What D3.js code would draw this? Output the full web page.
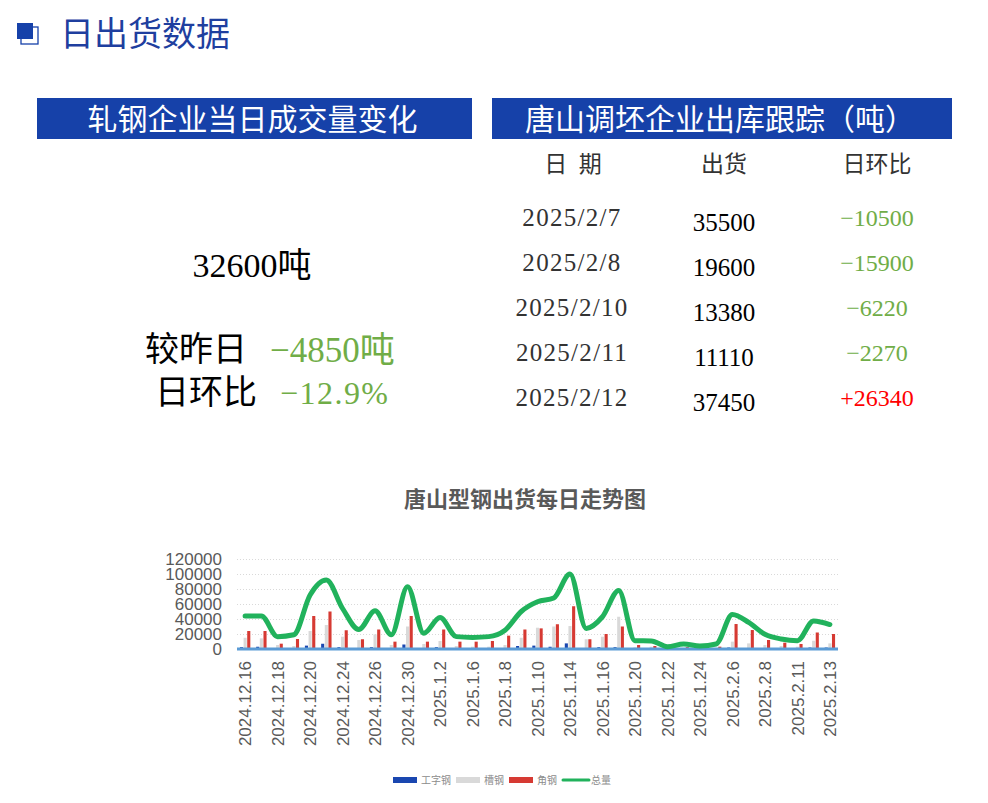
<!DOCTYPE html>
<html>
<head>
<meta charset="utf-8">
<script src="https://cdn.jsdelivr.net/npm/d3@7"></script>
<style>
  body { margin: 0; background: #fff; }
</style>
</head>
<body>
<svg id="page" width="988" height="803"></svg>
<script>
// chart data
var dates = ['2024.12.16','2024.12.17','2024.12.18','2024.12.19','2024.12.20','2024.12.23',
  '2024.12.24','2024.12.25','2024.12.26','2024.12.27','2024.12.30','2024.12.31',
  '2025.1.2','2025.1.3','2025.1.6','2025.1.7','2025.1.8','2025.1.9','2025.1.10',
  '2025.1.13','2025.1.14','2025.1.15','2025.1.16','2025.1.17','2025.1.20','2025.1.21',
  '2025.1.22','2025.1.23','2025.1.24','2025.2.5','2025.2.6','2025.2.7','2025.2.8',
  '2025.2.10','2025.2.11','2025.2.12','2025.2.13'];

var ibeam = [2500,3000,0,0,4500,7000,2500,0,2500,0,6000,0,2500,0,0,0,0,4000,4500,
  3000,7500,0,2500,2500,0,0,0,0,0,0,2000,0,0,0,0,2000,2000];

var channel = [15000,14200,5300,4000,24000,32000,16400,12000,19500,5300,30000,6700,
  10700,4000,3100,3100,5300,15000,28400,30000,30600,13000,16400,43000,2200,3100,
  1000,1000,1500,1000,9800,7500,5300,4000,3100,11000,7500];

var angle = [24000,24000,7100,13300,44000,50000,25000,13000,26000,9800,44000,9800,
  26000,9800,9800,10700,17800,26000,27500,33000,57000,13000,20000,30000,5300,4000,
  1500,2500,1000,3100,33300,25300,12000,8400,6700,22000,20000];

var total = [44000,44000,16500,19000,72000,92000,54000,26000,51000,19000,83000,21000,
  42000,16500,15500,16500,25000,50000,63000,68000,100000,27500,43000,78000,11000,
  10700,3100,6700,4000,6700,46000,35500,19600,13380,11110,37450,32600];

var yTicks = [0, 20000, 40000, 60000, 80000, 100000, 120000];
var seriesNames = ['工字钢', '槽钢', '角钢', '总量'];

// table data
var tableHead = ['日\u2002期', '出货', '日环比'];
var tableDates = ['2025/2/7', '2025/2/8', '2025/2/10', '2025/2/11', '2025/2/12'];
var tableShip = ['35500', '19600', '13380', '11110', '37450'];
var tableDiff = ['\u221210500', '\u221215900', '\u22126220', '\u22122270', '+26340'];

// today's summary
var todayTotal = '32600吨';
var todayDiff = '\u22124850吨';
var todayPct = '\u221212.9%';

var BLUE = '#1641a9';
var GREEN = '#70ad47';
var CJK = '"Noto Sans CJK SC", sans-serif';
var SERIF = '"Liberation Serif", "Noto Sans CJK SC", serif';

var svg = d3.select('#page');

// ---- header ----
svg.append('rect')
    .attr('x', 21).attr('y', 27).attr('width', 17).attr('height', 17)
    .attr('fill', 'none').attr('stroke', BLUE).attr('stroke-width', 1.3);
svg.append('rect')
    .attr('x', 17).attr('y', 23).attr('width', 16).attr('height', 16)
    .attr('fill', BLUE);
svg.append('text')
    .attr('x', 60).attr('y', 46)
    .style('font-family', CJK).style('font-size', '34px')
    .attr('fill', '#1f3f9f')
    .text('日出货数据');

// blue title bars
var bars = [
  {x: 37, w: 435, t: '轧钢企业当日成交量变化'},
  {x: 492, w: 460, t: '唐山调坯企业出库跟踪（吨）'}
];
svg.selectAll('rect.band')
    .data(bars)
    .enter()
    .append('rect')
    .attr('class', 'band')
    .attr('x', (d) => d.x).attr('y', 98)
    .attr('width', (d) => d.w).attr('height', 41)
    .attr('fill', BLUE);
svg.selectAll('text.band')
    .data(bars)
    .enter()
    .append('text')
    .attr('class', 'band')
    .attr('x', (d) => d.x + d.w / 2 - 2).attr('y', 130)
    .attr('text-anchor', 'middle')
    .style('font-family', CJK).style('font-size', '30px')
    .attr('fill', '#fff')
    .text((d) => d.t);

// ---- left summary ----
svg.append('text')
    .attr('x', 252).attr('y', 277)
    .attr('text-anchor', 'middle')
    .style('font-family', SERIF).style('font-size', '34px')
    .attr('fill', '#000')
    .text(todayTotal);

svg.append('text')
    .attr('x', 145).attr('y', 361)
    .style('font-family', CJK).style('font-size', '34px')
    .attr('fill', '#000')
    .text('较昨日');
svg.append('text')
    .attr('x', 270).attr('y', 362)
    .style('font-family', SERIF).style('font-size', '35px')
    .attr('fill', GREEN)
    .text(todayDiff);

svg.append('text')
    .attr('x', 155).attr('y', 404)
    .style('font-family', CJK).style('font-size', '34px')
    .attr('fill', '#000')
    .text('日环比');
svg.append('text')
    .attr('x', 280).attr('y', 404)
    .attr('textLength', 108).attr('lengthAdjust', 'spacing')
    .style('font-family', SERIF).style('font-size', '32px')
    .attr('fill', GREEN)
    .text(todayPct);

// ---- right table ----
var colX = [573, 724, 877];
svg.selectAll('text.thead')
    .data(tableHead)
    .enter()
    .append('text')
    .attr('class', 'thead')
    .attr('x', (d, i) => colX[i]).attr('y', 172)
    .attr('text-anchor', 'middle')
    .style('font-family', CJK).style('font-size', '23px')
    .attr('fill', '#333')
    .text((d) => d);

var rowY = d3.range(tableDates.length).map((i) => 226 + i * 45);

svg.selectAll('text.tdate')
    .data(tableDates)
    .enter()
    .append('text')
    .attr('class', 'tdate')
    .attr('x', colX[0] - 1).attr('y', (d, i) => rowY[i])
    .attr('text-anchor', 'middle')
    .style('font-family', SERIF).style('font-size', '25px')
    .style('letter-spacing', '1.3px')
    .attr('fill', '#333')
    .text((d) => d);

svg.selectAll('text.tship')
    .data(tableShip)
    .enter()
    .append('text')
    .attr('class', 'tship')
    .attr('x', colX[1]).attr('y', (d, i) => rowY[i] + 5)
    .attr('text-anchor', 'middle')
    .style('font-family', SERIF).style('font-size', '25px')
    .attr('fill', '#000')
    .text((d) => d);

svg.selectAll('text.tdiff')
    .data(tableDiff)
    .enter()
    .append('text')
    .attr('class', 'tdiff')
    .attr('x', colX[2]).attr('y', (d, i) => rowY[i])
    .attr('text-anchor', 'middle')
    .style('font-family', SERIF).style('font-size', '24px')
    .attr('fill', (d) => d.charAt(0) === '+' ? '#ff0000' : GREEN)
    .text((d) => d);

// ---- chart ----
var plotLeft = 237, plotRight = 838, plotTop = 559, plotBottom = 649;

svg.append('text')
    .attr('x', 525).attr('y', 507)
    .attr('text-anchor', 'middle')
    .style('font-family', CJK).style('font-size', '22px').style('font-weight', 'bold')
    .attr('fill', '#595959')
    .text('唐山型钢出货每日走势图');

var x = d3.scaleBand()
    .domain(dates)
    .range([plotLeft, plotRight]);

var xInner = d3.scaleBand()
    .domain([0, 1, 2])
    .range([0, x.bandwidth()])
    .paddingInner(0.15)
    .paddingOuter(0.8);

var y = d3.scaleLinear()
    .domain([0, 120000])
    .range([plotBottom, plotTop]);

// dotted grid
svg.append('g')
    .selectAll('line')
    .data(yTicks.slice(1))
    .enter()
    .append('line')
    .attr('x1', plotLeft).attr('x2', plotRight)
    .attr('y1', (d) => y(d) + 0.5).attr('y2', (d) => y(d) + 0.5)
    .attr('stroke', '#d9d9d9')
    .attr('stroke-dasharray', '1,2');

// y axis labels
var yAxis = svg.append('g')
    .attr('transform', `translate(${plotLeft}, 0)`)
    .call(d3.axisLeft(y).tickValues(yTicks).tickSize(0).tickPadding(15).tickFormat((d) => d));
yAxis.select('.domain').remove();
yAxis.selectAll('text')
    .style('font-family', '"Liberation Sans", Arial, sans-serif')
    .style('font-size', '17px')
    .attr('fill', '#595959');

// grouped bars
var barSeries = [
  {vals: ibeam, color: '#1a47b0'},
  {vals: channel, color: '#d9d9d9'},
  {vals: angle, color: '#d63a33'}
];
barSeries.forEach(function (s, k) {
  svg.append('g')
      .selectAll('rect')
      .data(s.vals)
      .enter()
      .append('rect')
      .attr('x', (v, i) => x(dates[i]) + xInner(k))
      .attr('y', (v) => y(v))
      .attr('width', xInner.bandwidth())
      .attr('height', (v) => plotBottom - y(v))
      .attr('fill', s.color);
});

// x axis
var xAxis = svg.append('g')
    .attr('transform', `translate(0, ${plotBottom})`)
    .call(d3.axisBottom(x).tickSize(0).tickFormat((d, i) => i % 2 ? '' : d));
xAxis.select('.domain').remove();
xAxis.selectAll('text')
    .attr('transform', 'rotate(-90)')
    .attr('text-anchor', 'end')
    .attr('x', -12)
    .attr('y', 0)
    .attr('dy', '0.36em')
    .style('font-family', '"Liberation Sans", Arial, sans-serif')
    .style('font-size', '17px')
    .attr('fill', '#595959');

// baseline
svg.append('line')
    .attr('x1', plotLeft).attr('x2', plotRight)
    .attr('y1', plotBottom).attr('y2', plotBottom)
    .attr('stroke', '#5b9bd5')
    .attr('stroke-width', 3);

// total line
var line = d3.line()
    .x((v, i) => x(dates[i]) + x.bandwidth() / 2)
    .y((v) => y(v))
    .curve(d3.curveMonotoneX);

svg.append('path')
    .datum(total)
    .attr('d', line)
    .attr('fill', 'none')
    .attr('stroke', '#21b25c')
    .attr('stroke-width', 5)
    .attr('stroke-linecap', 'round')
    .attr('stroke-linejoin', 'round');

// legend
var legendColors = ['#1a47b0', '#d9d9d9', '#d63a33', '#21b25c'];
var lx = 393;
seriesNames.forEach(function (name, k) {
  if (k < 3) {
    svg.append('rect')
        .attr('x', lx).attr('y', 777)
        .attr('width', 24).attr('height', 6)
        .attr('fill', legendColors[k]);
  } else {
    svg.append('line')
        .attr('x1', lx + 1).attr('x2', lx + 27)
        .attr('y1', 780).attr('y2', 780)
        .attr('stroke', legendColors[k])
        .attr('stroke-width', 3)
        .attr('stroke-linecap', 'round');
  }
  var t = svg.append('text')
      .attr('x', lx + (k < 3 ? 28 : 29)).attr('y', 784)
      .style('font-family', CJK).style('font-size', '10px')
      .attr('fill', '#8c8c8c')
      .text(name);
  lx += (k < 3 ? 28 : 29) + t.node().getComputedTextLength() + 5;
});
</script>
</body>
</html>
